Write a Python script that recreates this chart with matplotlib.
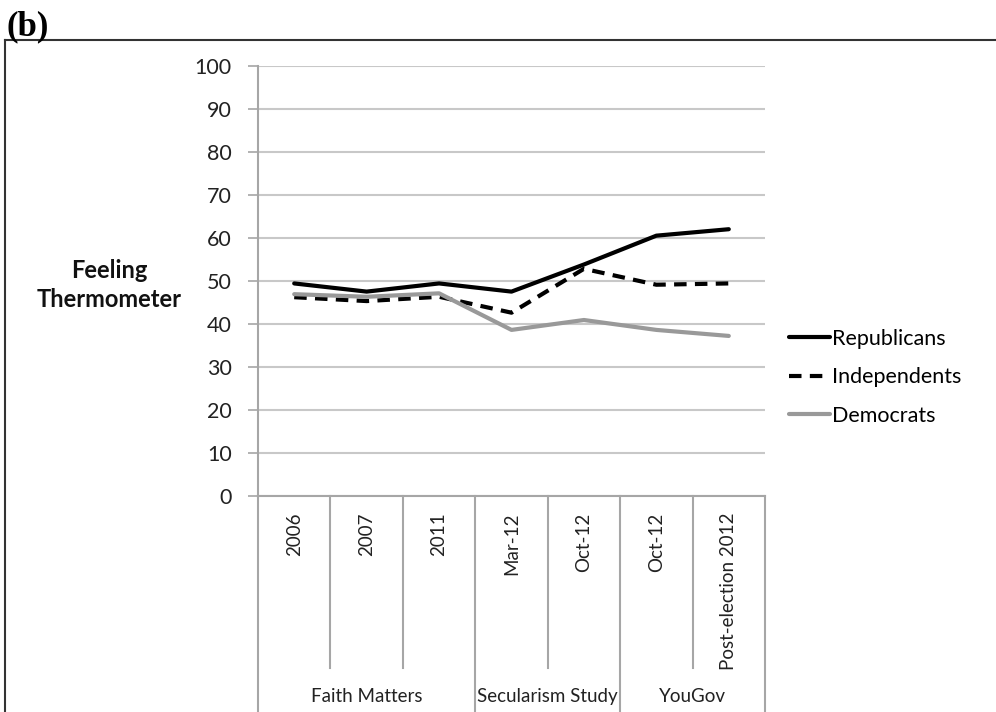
import matplotlib
matplotlib.use("Agg")
from matplotlib import pyplot as plt
from matplotlib.lines import Line2D
import matplotlib.transforms as mtransforms

categories = ["2006", "2007", "2011", "Mar-12", "Oct-12", "Oct-12", "Post-election 2012"]
groups = ["Faith Matters", "Secularism Study", "YouGov"]
group_sizes = [3, 2, 2]
republicans = [49.4, 47.5, 49.4, 47.5, 53.8, 60.5, 62.0]
independents = [46.2, 45.3, 46.3, 42.6, 52.8, 49.1, 49.4]
democrats = [46.9, 46.3, 47.1, 38.6, 40.9, 38.6, 37.2]
yticks = list(range(0, 101, 10))

plt.rcParams["font.family"] = ["Lato", "DejaVu Sans"]
GRID = "#c8c8c8"
AXIS = "#a6a6a6"

fig = plt.figure(figsize=(9.96, 7.12), dpi=100)
ax = fig.add_axes([258 / 996, 216 / 712, 507 / 996, 430.3 / 712])

x = range(len(categories))
ax.plot(x, republicans, c="black", lw=3, label="Republicans", solid_capstyle="round")
ax.plot(x, independents, c="black", lw=3, ls=(0, (3, 2)), label="Independents")
ax.plot(x, democrats, c="#999999", lw=3, label="Democrats", solid_capstyle="round")

ax.set_xlim(-0.5, len(categories) - 0.5)
ax.set_ylim(0, 100)
ax.set_yticks(yticks)
ax.yaxis.grid(True, color=GRID, lw=1.5)
ax.set_axisbelow(True)
for s in ("top", "right"):
    ax.spines[s].set_visible(False)
for s in ("left", "bottom"):
    ax.spines[s].set_color(AXIS)
    ax.spines[s].set_linewidth(1.5)
ax.tick_params(axis="y", length=7, width=1.2, color=AXIS, labelsize=15.5, pad=12, labelcolor="#222222")
ax.set_xticks(list(x))
ax.set_xticklabels(categories, rotation=90, fontsize=13.5, color="#222222")
ax.tick_params(axis="x", length=0, pad=12)

# category separators under the axis
trans = mtransforms.blended_transform_factory(ax.transData, ax.transAxes)
edges = [0]
for n in group_sizes:
    edges.append(edges[-1] + n)
for k in range(len(categories) + 1):
    bottom = -0.55 if k in edges else -0.40
    ax.plot([k - 0.5, k - 0.5], [0, bottom], transform=trans, c=AXIS, lw=1.5, clip_on=False)
for g, a, b in zip(groups, edges[:-1], edges[1:]):
    ax.text((a + b - 1) / 2, -0.465, g, transform=trans, ha="center", va="center",
            fontsize=13.5, color="#222222")

ax.legend(loc="upper left", bbox_to_anchor=(789 / 996, 1 - 329 / 712), bbox_transform=fig.transFigure,
          frameon=False, fontsize=15.5, handlelength=1.9, handletextpad=0.1, labelspacing=0.85,
          borderaxespad=0, borderpad=0)

fig.text(109 / 996, 1 - 285 / 712, "Feeling\nThermometer", ha="center", va="center",
         fontsize=17, fontweight="bold", linespacing=1.3, color="#111111")
fig.text(6 / 996, 1 - 43 / 712, "(b)", ha="left", va="bottom", fontsize=25, fontweight="bold",
         family=["Liberation Serif", "DejaVu Serif"])

# outer frame (top and left)
fig.add_artist(Line2D([5 / 996, 1], [1 - 40 / 712, 1 - 40 / 712], transform=fig.transFigure, c="#333333", lw=1.5))
fig.add_artist(Line2D([5 / 996, 5 / 996], [0, 1 - 40 / 712], transform=fig.transFigure, c="#333333", lw=1.5))

fig.savefig("out.png", dpi=100)
